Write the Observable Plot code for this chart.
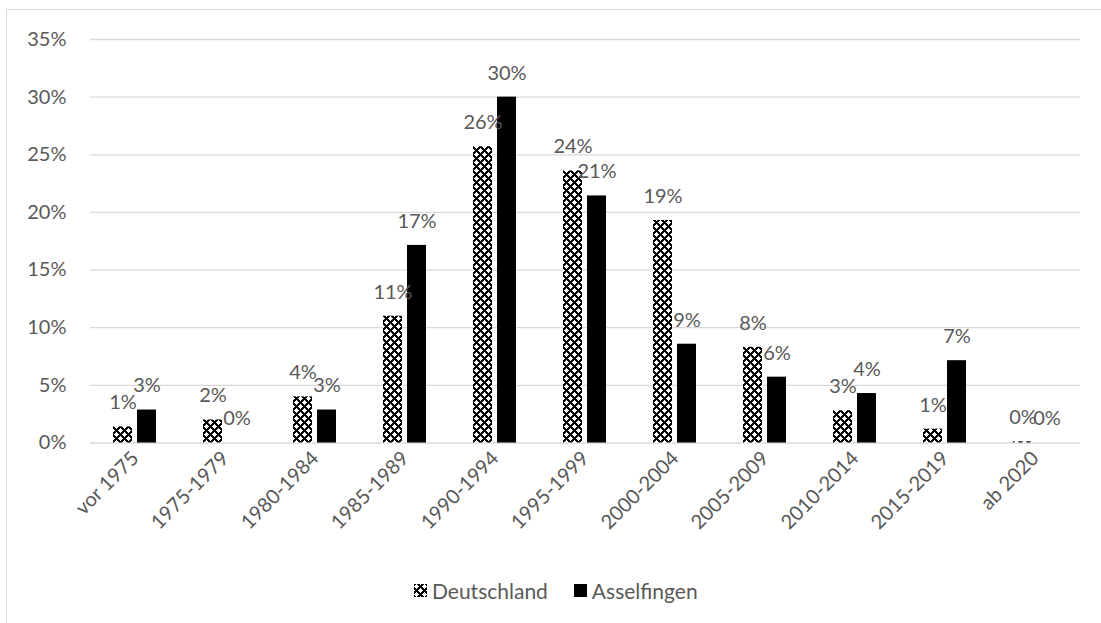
<!DOCTYPE html>
<html>
<head>
<meta charset="utf-8">
<script src="https://cdn.jsdelivr.net/npm/d3@7"></script>
<script src="https://cdn.jsdelivr.net/npm/@observablehq/plot@0.6"></script>
<style>
  html, body { margin: 0; padding: 0; background: #fff; width: 1101px; height: 623px; overflow: hidden; }
  #frame { position: absolute; left: 6px; top: 9px; width: 1200px; height: 700px; border: 1.5px solid #d9d9d9; box-sizing: border-box; }
  #chart { position: absolute; left: 0; top: 0; }
  #legend { position: absolute; left: 414px; top: 578px; display: flex; align-items: center;
            font-family: Lato, "Open Sans", sans-serif; font-size: 21px; color: #595959; white-space: nowrap; }
  #legend .item { display: flex; align-items: center; }
  #legend .item + .item { margin-left: 26px; }
  #legend svg { margin-right: 5px; }
</style>
</head>
<body>
<svg width="0" height="0" style="position:absolute">
  <defs>
    <!-- diamond lattice fill used for the Deutschland series -->
    <pattern id="chk" width="8" height="8" patternUnits="userSpaceOnUse" shape-rendering="crispEdges">
      <rect width="8" height="8" fill="#000"/>
      <g fill="#fff">
        <rect x="0" y="2" width="5" height="1"/>
        <rect x="1" y="1" width="3" height="3"/>
        <rect x="2" y="0" width="1" height="5"/>
        <rect x="4" y="6" width="4" height="1"/>
        <rect x="0" y="6" width="1" height="1"/>
        <rect x="5" y="5" width="3" height="3"/>
        <rect x="6" y="4" width="1" height="4"/>
        <rect x="6" y="0" width="1" height="1"/>
      </g>
    </pattern>
  </defs>
</svg>
<div id="frame"></div>
<div id="chart"></div>
<div id="legend">
  <div class="item"><svg width="13" height="13"><rect width="13" height="13" fill="url(#chk)"/></svg>Deutschland</div>
  <div class="item"><svg width="13" height="13"><rect width="13" height="13" fill="#000"/></svg>Asselfingen</div>
</div>
<script>
// Baujahr-Klassen
const categories = ["vor 1975", "1975-1979", "1980-1984", "1985-1989", "1990-1994", "1995-1999",
                    "2000-2004", "2005-2009", "2010-2014", "2015-2019", "ab 2020"];
// Anteile in Prozent
const deutschland = [1.4, 2.0, 4.0, 11.0, 25.7, 23.6, 19.3, 8.3, 2.8, 1.2, 0.1];
const asselfingen = [2.86, 0, 2.86, 17.14, 30.0, 21.43, 8.57, 5.71, 4.29, 7.14, 0];
const seriesNames = ["Deutschland", "Asselfingen"];
const yTicks = [0, 5, 10, 15, 20, 25, 30, 35];

const rowsD = categories.map((c, i) => ({cat: c, series: "Deutschland", value: deutschland[i]}));
const rowsA = categories.map((c, i) => ({cat: c, series: "Asselfingen", value: asselfingen[i]}));
const rows = rowsD.concat(rowsA);

const font = "Lato, 'Open Sans', sans-serif";
const textColor = "#595959";
const fs = 20;

const chart = Plot.plot({
  width: 1101,
  height: 570,
  marginLeft: 88,
  marginRight: 20,
  marginTop: 39,
  marginBottom: 127.5,
  style: {fontFamily: font, fontSize: fs + "px", color: textColor, background: "transparent"},
  fx: {domain: categories, paddingInner: 0, paddingOuter: 0, axis: null},
  x: {domain: seriesNames, paddingInner: 0.2, paddingOuter: 0.906, axis: null},
  y: {domain: [0, 35], axis: null},
  marks: [
    Plot.ruleY(yTicks, {stroke: "#d9d9d9", strokeWidth: 1.3}),
    Plot.barY(rowsD, {fx: "cat", x: "series", y: "value", fill: "url(#chk)"}),
    Plot.barY(rowsA, {fx: "cat", x: "series", y: "value", fill: "#000"}),
    Plot.text(rows, {fx: "cat", x: "series", y: "value", text: d => Math.round(d.value) + "%",
                     dy: -24, fill: textColor, fontSize: fs}),
    Plot.axisY(yTicks, {tickSize: 0, tickPadding: 24, tickFormat: d => d + "%", label: null,
                        fill: textColor, fontSize: fs}),
    Plot.axisFx({anchor: "bottom", tickRotate: -45, tickSize: 0, tickPadding: 12, label: null,
                 fill: textColor, fontSize: fs})
  ]
});
document.getElementById("chart").appendChild(chart);
</script>
</body>
</html>
